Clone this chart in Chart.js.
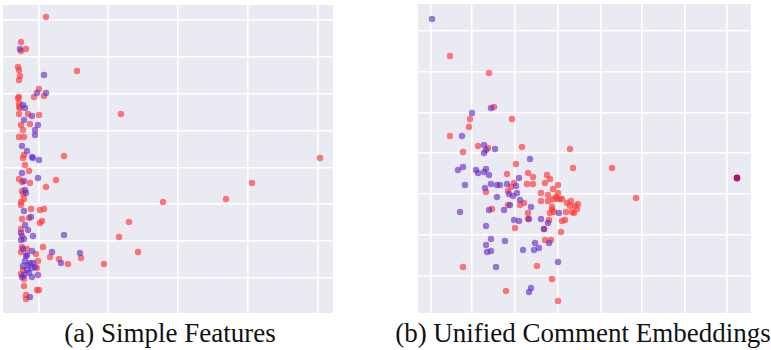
<!DOCTYPE html>
<html>
<head>
<meta charset="utf-8">
<script src="https://cdn.jsdelivr.net/npm/chart.js@4.4.1/dist/chart.umd.min.js"></script>
<style>
    body { margin: 0; background: #ffffff; width: 771px; height: 350px; position: relative; overflow: hidden; }
    .panel { position: absolute; }
    .caption {
        position: absolute;
        top: 318px;
        font-family: "Liberation Serif", "DejaVu Serif", serif;
        font-size: 27px;
        color: #111;
        text-align: center;
        white-space: nowrap;
    }
</style>
</head>
<body>
<div class="panel" style="left:3px; top:5px;"><canvas id="simpleChart" width="330" height="308"></canvas></div>
<div class="panel" style="left:418px; top:4px;"><canvas id="unifiedChart" width="333" height="309"></canvas></div>
<div class="caption" style="left:10px; width:320px;">(a) Simple Features</div>
<div class="caption" style="left:383px; width:400px;">(b) Unified Comment Embeddings</div>

<script>
// (a) SIMPLE FEATURES - diem [x, y] doc tu hinh
var simpleRed = [
    [7, 261], [-18, 236], [-18, 227], [-13, 229], [-21, 211], [-20, 208], [-19, 202], [-20, 198],
    [38, 207], [0, 189], [-5, 181], [5, 182], [-20, 181], [-21, 180], [-20, 175], [-20, 171],
    [-19, 170], [82, 164], [-20, 164], [-11, 164], [0, 163], [-18, 153], [-9, 154], [-16, 148],
    [-20, 141], [-15, 141], [-15, 123], [-16, 120], [25, 122], [-14, 113], [-10, 107], [-20, 99],
    [-17, 96], [-9, 95], [17, 98], [7, 91], [-17, 87], [-16, 84], [-15, 79], [-18, 76],
    [-18, 73], [-8, 69], [1, 68], [5, 69], [-17, 59], [-10, 60], [1, 55], [3, 57],
    [90, 56], [-18, 49], [-17, 42], [80, 41], [4, 31], [-17, 31], [-18, 26], [-12, 29],
    [-3, 24], [11, 21], [42, 20], [20, 19], [29, 14], [65, 14], [-1, 17], [-2, 10],
    [-16, 8], [-18, 4], [-15, -1], [-15, -8], [-2, -12], [0, -12], [-13, -17], [-13, -21],
    [281, 120], [213, 95], [187, 79], [124, 76], [99, 26]
];
var simplePurple = [
    [-19, 229], [5, 203], [-2, 185], [7, 185], [-16, 173], [-14, 170], [-7, 162], [-15, 158],
    [-1, 153], [-4, 148], [-4, 143], [-17, 132], [-12, 127], [-7, 121], [-6, 120], [0, 118],
    [-17, 105], [-1, 100], [-15, 97], [-14, 88], [-13, 85], [-15, 67], [-8, 61], [-14, 53],
    [-11, 48], [-18, 45], [-6, 42], [-15, 39], [-18, 38], [25, 43], [-16, 29], [-7, 27],
    [13, 26], [41, 25], [-12, 23], [-13, 22], [22, 15], [-14, 17], [-16, 12], [-11, 13],
    [-6, 15], [-4, 11], [-7, 10], [-12, 8], [-10, 5], [-15, 3], [-1, 3], [-7, 1],
    [-9, 15], [-17, 1], [-9, -19]
];
var simpleXTicks = [0, 69, 139, 209, 279];
var simpleYTicks = [0, 37, 74, 110, 147, 184, 221, 258];
var simpleXRange = [-36, 294];
var simpleYRange = [-35, 273];

// (b) UNIFIED COMMENT EMBEDDINGS
var unifiedRed = [
    [19, 220], [58, 203], [63, 169], [39, 157], [81, 157], [38, 149], [19, 140], [47, 130],
    [57, 128], [91, 129], [139, 127], [32, 124], [142, 108], [181, 108], [205, 78],
    [85, 112], [76, 102], [97, 103], [102, 99], [116, 101], [119, 97], [55, 84],
    [83, 93], [80, 89], [77, 85], [96, 92], [102, 92], [114, 93], [127, 91], [122, 87],
    [110, 83], [110, 75], [117, 75], [122, 77], [126, 77], [129, 77], [131, 77], [127, 83],
    [125, 79], [117, 81], [93, 73], [89, 71], [77, 71], [140, 75], [147, 72], [144, 70],
    [139, 70], [136, 73], [121, 69], [123, 64], [119, 63], [135, 64], [141, 64], [143, 63],
    [61, 67], [97, 63], [118, 56], [131, 55], [134, 56], [84, 48], [113, 47], [130, 44],
    [114, 36], [120, 36], [32, 9], [106, 10], [121, -3], [75, -15], [127, -25], [146, 67],
    [121, 66], [97, 57]
];
var unifiedPurple = [
    [1, 257], [60, 168], [41, 163], [31, 140], [53, 131], [55, 126], [64, 127], [53, 123],
    [99, 117], [27, 106], [32, 109], [45, 106], [47, 103], [53, 104],
    [55, 107], [58, 101], [88, 98], [34, 91], [60, 92], [66, 91], [69, 91], [54, 88],
    [76, 92], [85, 90], [78, 82], [82, 80], [86, 83], [66, 79], [89, 76], [79, 71],
    [100, 69], [29, 64], [58, 66], [73, 66], [128, 63], [98, 57], [110, 57], [83, 56],
    [88, 55], [55, 50], [117, 53], [113, 47], [60, 37], [74, 35], [104, 33], [118, 33],
    [55, 31], [108, 28], [103, 26], [92, 26], [60, 25], [56, 24], [127, 14], [65, 9],
    [100, -12], [98, -16]
];
// diem chong len nhau o ben phai (nhieu diem do + tim trung nhau)
var unifiedOverlap = [[306, 98]];
var unifiedXTicks = [0, 41, 84, 127, 170, 211, 254, 296];
var unifiedYTicks = [0, 41, 82, 123, 163, 204, 245];
var unifiedXRange = [-13, 320];
var unifiedYRange = [-37, 272];

var redColor = "rgba(255, 60, 60, 0.68)";
var purpleColor = "rgba(100, 40, 200, 0.62)";
var overlapColor = "rgba(178, 0, 110, 0.95)";

// to nen mau tim nhat cho vung ve
var bgPlugin = {
    id: "bgPlugin",
    beforeDraw: function (chart) {
        var a = chart.chartArea;
        chart.ctx.save();
        chart.ctx.fillStyle = "#EAEAF2";
        chart.ctx.fillRect(a.left, a.top, a.right - a.left, a.bottom - a.top);
        chart.ctx.restore();
    },
};

function toPoints(arr) {
    return arr.map(function (p) { return { x: p[0], y: p[1] }; });
}

function makeAxis(range, ticks) {
    return {
        type: "linear",
        min: range[0],
        max: range[1],
        afterBuildTicks: function (axis) {
            axis.ticks = ticks.map(function (v) { return { value: v }; });
        },
        ticks: { display: false },
        border: { display: false },
        grid: { color: "#ffffff", lineWidth: 1.6, drawTicks: false },
    };
}

function makeScatter(id, red, purple, overlap, xr, yr, xt, yt) {
    var ctx = document.getElementById(id).getContext("2d");
    return new Chart(ctx, {
        type: "scatter",
        data: {
            datasets: [
                {
                    label: "overlap",
                    data: toPoints(overlap),
                    backgroundColor: overlapColor,
                    borderWidth: 0,
                    pointRadius: 3.4,
                },
                {
                    label: "purple",
                    data: toPoints(purple),
                    backgroundColor: purpleColor,
                    borderWidth: 0,
                    pointRadius: 3.2,
                },
                {
                    label: "red",
                    data: toPoints(red),
                    backgroundColor: redColor,
                    borderWidth: 0,
                    pointRadius: 3.2,
                },
            ],
        },
        options: {
            responsive: false,
            animation: false,
            layout: { padding: 0, autoPadding: false },
            plugins: { legend: { display: false }, tooltip: { enabled: false } },
            scales: {
                x: makeAxis(xr, xt),
                y: makeAxis(yr, yt),
            },
        },
        plugins: [bgPlugin],
    });
}

makeScatter("simpleChart", simpleRed, simplePurple, [], simpleXRange, simpleYRange, simpleXTicks, simpleYTicks);
makeScatter("unifiedChart", unifiedRed, unifiedPurple, unifiedOverlap, unifiedXRange, unifiedYRange, unifiedXTicks, unifiedYTicks);
</script>
</body>
</html>
